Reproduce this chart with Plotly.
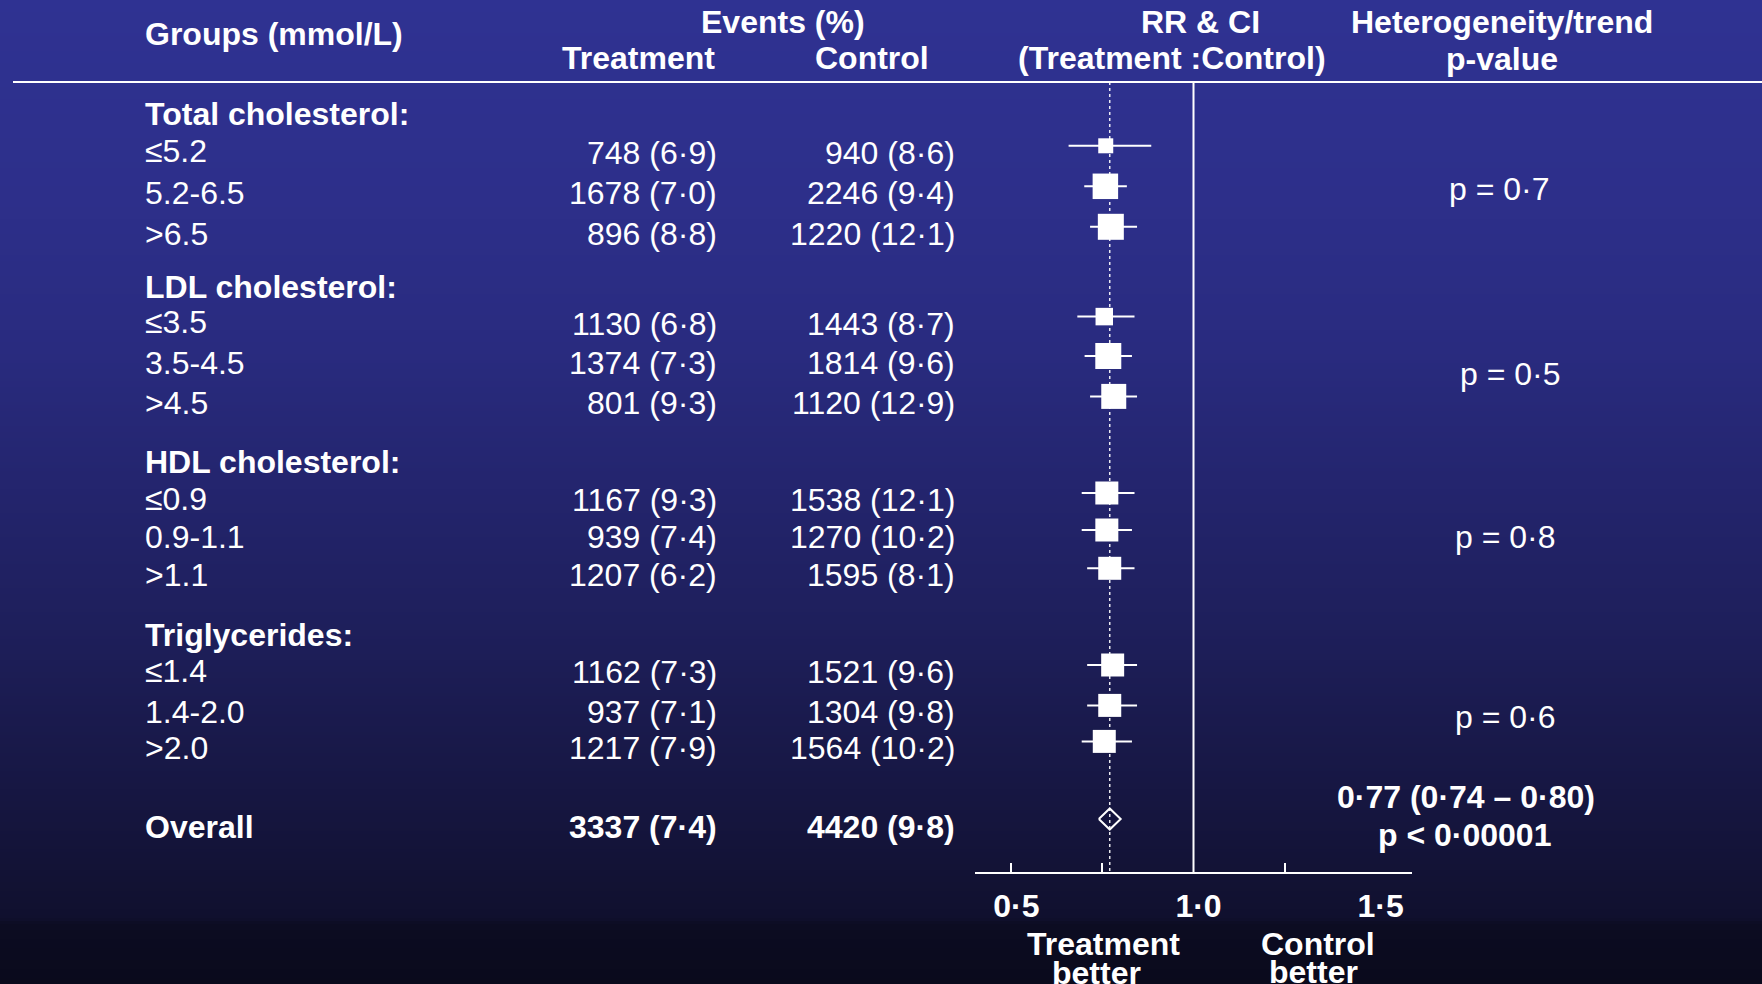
import plotly.graph_objects as go

W, H = 1762, 984
FONT = "Liberation Sans, Arial, Helvetica, sans-serif"
WHITE = "#ffffff"

# ---------------- data ----------------
group_names = ["Total cholesterol:", "LDL cholesterol:", "HDL cholesterol:", "Triglycerides:"]
subgroups = ["≤5.2", "5.2-6.5", ">6.5",
             "≤3.5", "3.5-4.5", ">4.5",
             "≤0.9", "0.9-1.1", ">1.1",
             "≤1.4", "1.4-2.0", ">2.0"]
treat_events = [748, 1678, 896, 1130, 1374, 801, 1167, 939, 1207, 1162, 937, 1217]
treat_pct = [6.9, 7.0, 8.8, 6.8, 7.3, 9.3, 9.3, 7.4, 6.2, 7.3, 7.1, 7.9]
ctrl_events = [940, 2246, 1220, 1443, 1814, 1120, 1538, 1270, 1595, 1521, 1304, 1564]
ctrl_pct = [8.6, 9.4, 12.1, 8.7, 9.6, 12.9, 12.1, 10.2, 8.1, 9.6, 9.8, 10.2]
rr = [0.759, 0.758, 0.773, 0.755, 0.766, 0.781, 0.762, 0.762, 0.770, 0.778, 0.770, 0.755]
rr_lo = [0.657, 0.700, 0.716, 0.681, 0.701, 0.716, 0.693, 0.693, 0.708, 0.708, 0.708, 0.693]
rr_hi = [0.884, 0.817, 0.845, 0.838, 0.831, 0.845, 0.838, 0.831, 0.838, 0.845, 0.845, 0.831]
het_p = ["p = 0·7", "p = 0·5", "p = 0·8", "p = 0·6"]

overall_treat_events, overall_treat_pct = 3337, 7.4
overall_ctrl_events, overall_ctrl_pct = 4420, 9.8
overall_rr, overall_lo, overall_hi = 0.77, 0.74, 0.80
overall_p = "p < 0·00001"

axis_label_vals = [0.5, 1.0, 1.5]
axis_labels = ["0·5", "1·0", "1·5"]
axis_tick_vals = [0.5, 0.75, 1.25]

# ---------------- layout constants (pixels from top) ----------------
HEADER_LINE_Y = 82
AXIS_Y = 872
GROUP_Y = [113.5, 286.5, 461.8, 634.9]
ROW_Y = [152.8, 193.3, 233.8, 323.6, 363.0, 403.4, 500.0, 537.0, 575.3, 672.0, 712.4, 748.4]
OVERALL_Y = 827
MARK_OFFSET = 7            # boxes sit slightly above the text centre line
BOX_PX = [15, 25.5, 26, 17.5, 26, 25, 23, 23, 23, 23, 23, 23]
HET_POS = [(1499, 189), (1510, 374), (1505, 537), (1505, 717)]

X_LABEL = 144
X_TREAT_R = 718
X_CTRL_R = 956


def fmt(n, p):
    return f"{n} ({p:.1f})".replace(".", "·")


fig = go.Figure()

# ---------------- forest marks ----------------
fig.add_trace(go.Scatter(
    x=rr,
    y=[y - MARK_OFFSET for y in ROW_Y],
    mode="markers",
    marker=dict(symbol="square", size=BOX_PX, color=WHITE, opacity=1, line=dict(width=0)),
    error_x=dict(type="data", symmetric=False,
                 array=[h - r for h, r in zip(rr_hi, rr)],
                 arrayminus=[r - l for r, l in zip(rr, rr_lo)],
                 color=WHITE, thickness=2, width=0),
    xaxis="x", yaxis="y", hoverinfo="skip",
))

# overall estimate drawn as a hollow diamond
half_h = 10.5
yc = OVERALL_Y - 8
fig.add_trace(go.Scatter(
    x=[overall_lo, overall_rr, overall_hi, overall_rr, overall_lo],
    y=[yc, yc - half_h, yc, yc + half_h, yc],
    mode="lines", line=dict(color=WHITE, width=2),
    xaxis="x2", yaxis="y", hoverinfo="skip",
))

# reference lines: no effect (1.0) and overall estimate (dotted)
fig.add_shape(type="line", xref="x", yref="y", x0=1.0, x1=1.0,
              y0=HEADER_LINE_Y, y1=AXIS_Y + 2, line=dict(color=WHITE, width=2))
fig.add_shape(type="line", xref="x", yref="y", x0=overall_rr, x1=overall_rr,
              y0=HEADER_LINE_Y, y1=AXIS_Y, line=dict(color="rgba(255,255,255,0.9)", width=1.5, dash="dot"))

# header rule
fig.add_shape(type="line", xref="paper", yref="paper", x0=13 / W, x1=1,
              y0=1 - HEADER_LINE_Y / H, y1=1 - HEADER_LINE_Y / H,
              line=dict(color=WHITE, width=2))

# ---------------- background gradient ----------------
stops = [
    (0, (47, 50, 146)),
    (200, (45, 47, 138)),
    (350, (41, 43, 127)),
    (500, (35, 36, 108)),
    (650, (29, 30, 88)),
    (780, (23, 23, 68)),
    (880, (18, 18, 52)),
    (918, (16, 16, 46)),
    (924, (12, 12, 34)),
    (984, (10, 10, 28)),
]


def grad(y):
    for (y0, c0), (y1, c1) in zip(stops, stops[1:]):
        if y0 <= y <= y1:
            t = (y - y0) / (y1 - y0)
            return tuple(round(a + (b - a) * t) for a, b in zip(c0, c1))
    return stops[-1][1]


step = 3
for y in range(0, H, step):
    r, g, b = grad(y + step / 2)
    fig.add_shape(type="rect", xref="paper", yref="paper", layer="below",
                  x0=0, x1=1, y0=1 - (y + step + 0.5) / H, y1=1 - y / H,
                  line=dict(width=0), fillcolor=f"rgb({r},{g},{b})")


# ---------------- text ----------------
def text(s, x, y, anchor="left", bold=False):
    fig.add_annotation(x=x / W, y=1 - y / H, xref="paper", yref="paper", text=s,
                       showarrow=False, xanchor=anchor, yanchor="middle",
                       borderpad=0,
                       font=dict(family=FONT, size=32, color=WHITE,
                                 weight="bold" if bold else "normal"))


# column headers
text("Groups (mmol/L)", X_LABEL, 34, "left", True)
text("Events (%)", 783, 22, "center", True)
text("Treatment", 638, 58, "center", True)
text("Control", 872, 58, "center", True)
text("RR & CI", 1200, 22, "center", True)
text("(Treatment :Control)", 1172, 58, "center", True)
text("Heterogeneity/trend", 1502, 22, "center", True)
text("p-value", 1502, 59, "center", True)

for name, gy in zip(group_names, GROUP_Y):
    text(name, X_LABEL, gy, "left", True)

for i, ry in enumerate(ROW_Y):
    lift = 1.5 if subgroups[i].startswith("≤") else 0
    text(subgroups[i], X_LABEL, ry - lift, "left")
    text(fmt(treat_events[i], treat_pct[i]), X_TREAT_R, ry, "right")
    text(fmt(ctrl_events[i], ctrl_pct[i]), X_CTRL_R, ry, "right")

for s, (px, py) in zip(het_p, HET_POS):
    text(s, px, py, "center")

text("Overall", X_LABEL, OVERALL_Y, "left", True)
text(fmt(overall_treat_events, overall_treat_pct), X_TREAT_R, OVERALL_Y, "right", True)
text(fmt(overall_ctrl_events, overall_ctrl_pct), X_CTRL_R, OVERALL_Y, "right", True)
overall_txt = f"{overall_rr:.2f} ({overall_lo:.2f} – {overall_hi:.2f})".replace(".", "·")
text(overall_txt, 1466, 797, "center", True)
text(overall_p, 1464, 835, "center", True)

text("Treatment", 1103, 944, "center", True)
text("better", 1096, 973, "center", True)
text("Control", 1318, 944, "center", True)
text("better", 1313, 972, "center", True)

# ---------------- axes ----------------
x_dom = [975 / W, 1412 / W]
fig.update_layout(
    width=W, height=H,
    margin=dict(l=0, r=0, t=0, b=0),
    paper_bgcolor="rgb(10,10,28)",
    plot_bgcolor="rgba(0,0,0,0)",
    showlegend=False,
    hovermode=False,
    xaxis=dict(domain=x_dom, range=[0.4, 1.6], anchor="y",
               showline=True, linecolor=WHITE, linewidth=2,
               tickmode="array", tickvals=axis_tick_vals, ticks="inside",
               ticklen=9, tickwidth=1.5, tickcolor=WHITE,
               showticklabels=False, showgrid=False, zeroline=False, fixedrange=True),
    xaxis2=dict(domain=x_dom, range=[0.4, 1.6], anchor="y", overlaying="x",
                showline=False, tickmode="array", tickvals=axis_label_vals,
                ticktext=axis_labels, ticks="", showgrid=False, zeroline=False,
                side="bottom", ticklabelstandoff=12, ticklabelshift=5,
                tickfont=dict(family=FONT, size=32, color=WHITE, weight="bold"),
                fixedrange=True),
    yaxis=dict(domain=[1 - AXIS_Y / H, 1], range=[AXIS_Y, 0], visible=False,
               showgrid=False, zeroline=False, fixedrange=True),
)

fig.write_html("out.html")
